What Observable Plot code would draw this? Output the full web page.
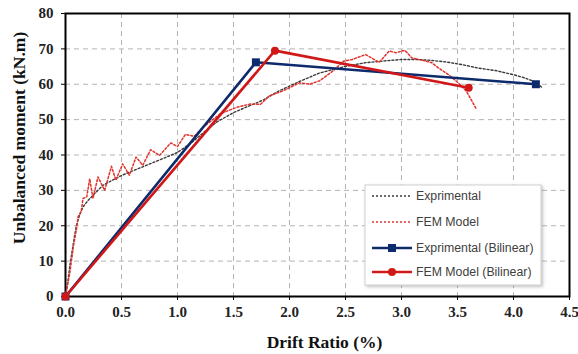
<!DOCTYPE html>
<html>
<head>
<meta charset="utf-8">
<script src="https://cdn.jsdelivr.net/npm/d3@7"></script>
<script src="https://cdn.jsdelivr.net/npm/@observablehq/plot@0.6"></script>
<style>
  html, body { margin: 0; padding: 0; background: white; }
  #chart { width: 578px; height: 354px; }
</style>
</head>
<body>
<div id="chart"></div>
<script>
// ---- data ----
const xTicks = [0, 0.5, 1.0, 1.5, 2.0, 2.5, 3.0, 3.5, 4.0, 4.5];
const yTicks = [0, 10, 20, 30, 40, 50, 60, 70, 80];

const expX = [0, 0.02, 0.04, 0.06, 0.08, 0.097, 0.125, 0.156, 0.2, 0.245, 0.333, 0.42, 0.5, 0.6, 0.686, 0.77, 0.862, 1.0, 1.13, 1.23, 1.35, 1.5, 1.65, 1.77, 1.9, 2.09, 2.27, 2.49, 2.68, 2.85, 3.0, 3.15, 3.25, 3.4, 3.55, 3.68, 3.85, 4.0, 4.1, 4.2, 4.25];
const expY = [0, 4, 9, 13, 17, 20, 23, 25.3, 27.1, 28.6, 31.4, 32.9, 34.2, 35.5, 36.6, 37.7, 38.9, 40.7, 43.6, 46.3, 49.3, 52, 54, 55.6, 58, 60.8, 63.2, 65, 66.1, 66.6, 67, 67, 66.8, 66.3, 65.5, 64.6, 63.8, 62.7, 61.8, 60.6, 59.2];

const femX = [0, 0.04, 0.07, 0.1, 0.112, 0.14, 0.156, 0.19, 0.216, 0.245, 0.29, 0.35, 0.41, 0.45, 0.51, 0.57, 0.63, 0.69, 0.76, 0.84, 0.94, 1.0, 1.07, 1.15, 1.23, 1.38, 1.53, 1.65, 1.74, 1.82, 1.94, 2.09, 2.18, 2.27, 2.39, 2.48, 2.56, 2.68, 2.80, 2.89, 2.95, 3.03, 3.09, 3.18, 3.27, 3.33, 3.42, 3.51, 3.58, 3.63, 3.67];
const femY = [0, 7, 14, 19.5, 22.5, 24, 27.7, 28.2, 33.3, 27.7, 33.8, 30, 36.8, 32.9, 37.5, 34.3, 39.4, 37.1, 41.5, 39.9, 43.4, 42.4, 45.8, 45.3, 47.9, 51.6, 53.5, 54.4, 54.3, 56.7, 58.1, 60.4, 60, 61, 63.8, 66.5, 67, 68.4, 66.2, 69.4, 68.9, 69.6, 67.5, 66.8, 66.1, 64.6, 62.7, 60.3, 58, 55.2, 52.9];

const bilExpX = [0, 1.7, 4.2];
const bilExpY = [0, 66.2, 60];
const bilFemX = [0, 1.87, 3.6];
const bilFemY = [0, 69.5, 59];

const seriesNames = ["Exprimental", "FEM Model", "Exprimental (Bilinear)", "FEM Model (Bilinear)"];
const xTitle = "Drift Ratio (%)";
const yTitle = "Unbalanced moment (kN.m)";

// ---- build tables ----
const zip = (xs, ys) => xs.map((x, i) => ({x, y: ys[i]}));
const exp = zip(expX, expY);
const fem = zip(femX, femY);
const bilExp = zip(bilExpX, bilExpY);
const bilFem = zip(bilFemX, bilFemY);

const NAVY = "#0d2a6c";
const RED = "#d01818";
const GRAY = "#3a3a3a";
const LRED = "#e2322c";

const serif = "'Liberation Serif', 'Times New Roman', serif";

const plot = Plot.plot({
  width: 578,
  height: 354,
  marginLeft: 65,
  marginRight: 9,
  marginTop: 13,
  marginBottom: 58,
  x: {domain: [0, 4.5]},
  y: {domain: [0, 80]},
  style: {fontFamily: serif, fontSize: "15px", fontWeight: "bold", color: "#222", background: "white"},
  marks: [
    Plot.gridX(xTicks, {stroke: "#b4b4b4", strokeOpacity: 1, strokeDasharray: "5,4"}),
    Plot.gridY(yTicks, {stroke: "#b4b4b4", strokeOpacity: 1, strokeDasharray: "5,4"}),
    Plot.axisX(xTicks, {tickFormat: d => d.toFixed(1), tickSize: 4, tickPadding: 6, label: null, stroke: "black"}),
    Plot.axisY(yTicks, {tickSize: 4, tickPadding: 8, label: null, stroke: "black"}),
    Plot.frame({stroke: "black", strokeWidth: 2}),
    Plot.line(exp, {x: "x", y: "y", stroke: GRAY, strokeWidth: 1.4, strokeDasharray: "2,2"}),
    Plot.line(fem, {x: "x", y: "y", stroke: LRED, strokeWidth: 1.5, strokeDasharray: "2,2"}),
    Plot.line(bilExp, {x: "x", y: "y", stroke: NAVY, strokeWidth: 2.6}),
    Plot.dot(bilExp, {x: "x", y: "y", symbol: "square", r: 4.5, fill: NAVY, stroke: "none"}),
    Plot.line(bilFem, {x: "x", y: "y", stroke: RED, strokeWidth: 2.6}),
    Plot.dot(bilFem, {x: "x", y: "y", symbol: "circle", r: 4, fill: RED, stroke: "none"}),
    Plot.text([xTitle], {frameAnchor: "bottom", textAnchor: "middle", lineAnchor: "middle", dx: 7, dy: 46, fontSize: 17.5, fontWeight: "bold", fontFamily: serif, fill: "#111"}),
    Plot.text([yTitle], {frameAnchor: "left", textAnchor: "middle", lineAnchor: "middle", rotate: -90, dx: -46, dy: -17, fontSize: 17.5, fontWeight: "bold", fontFamily: serif, fill: "#111"})
  ]
});

document.getElementById("chart").appendChild(plot);

// ---- legend ----
const svg = d3.select(plot);
const defs = svg.append("defs");
const f = defs.append("filter").attr("id", "shadow").attr("x", "-10%").attr("y", "-10%").attr("width", "130%").attr("height", "130%");
f.append("feDropShadow").attr("dx", 1.5).attr("dy", 1.5).attr("stdDeviation", 1.5).attr("flood-color", "#888").attr("flood-opacity", 0.5);

const lg = svg.append("g").attr("font-family", "'Liberation Sans', Arial, sans-serif").attr("font-weight", "normal").attr("text-anchor", "start");
lg.append("rect").attr("x", 365).attr("y", 185).attr("width", 176).attr("height", 100)
  .attr("fill", "white").attr("stroke", "#cfcfcf").attr("stroke-width", 1).attr("filter", "url(#shadow)");

const rowY = [196, 222, 248, 272];
const styles = [
  {stroke: GRAY, width: 1.4, dash: "2,2", marker: null},
  {stroke: LRED, width: 1.5, dash: "2,2", marker: null},
  {stroke: NAVY, width: 2.6, dash: null, marker: "square"},
  {stroke: RED, width: 2.6, dash: null, marker: "circle"}
];
seriesNames.forEach((name, i) => {
  const s = styles[i];
  const y = rowY[i];
  const ln = lg.append("line").attr("x1", 372).attr("x2", 412).attr("y1", y).attr("y2", y)
    .attr("stroke", s.stroke).attr("stroke-width", s.width);
  if (s.dash) ln.attr("stroke-dasharray", s.dash);
  if (s.marker === "square") {
    lg.append("rect").attr("x", 388).attr("y", y - 4).attr("width", 8).attr("height", 8).attr("fill", s.stroke);
  } else if (s.marker === "circle") {
    lg.append("circle").attr("cx", 392).attr("cy", y).attr("r", 4).attr("fill", s.stroke);
  }
  lg.append("text").attr("x", 416).attr("y", y).attr("dy", "0.35em")
    .attr("font-size", 12.3).attr("fill", "#404040").attr("text-anchor", "start").text(name);
});
</script>
</body>
</html>
